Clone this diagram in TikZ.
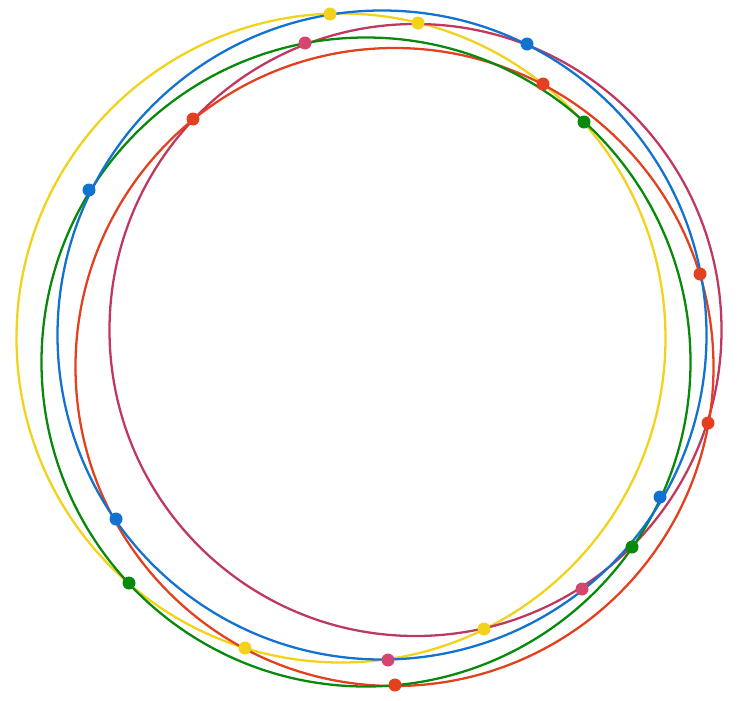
\documentclass[tikz,border=0pt]{standalone}
\usepackage{tikz}

\definecolor{ringyellow}{HTML}{F2D21B}
\definecolor{ringblue}{HTML}{1272CF}
\definecolor{ringgreen}{HTML}{07890B}
\definecolor{ringred}{HTML}{E2401E}
\definecolor{ringpink}{HTML}{C0385F}
\definecolor{dotpink}{HTML}{D6456E}

\begin{document}
\begin{tikzpicture}[x=0.02cm, y=-0.02cm,
    ring/.style={line width=1.3pt},
    dot/.style={radius=3.7pt}]

    % Frame
    \useasboundingbox (0,0) rectangle (740,700);

    % Rings
    \draw[ring, ringyellow] (341,338) circle[radius=324.5];
    \draw[ring, ringpink]   (415.5,330) circle[radius=306];
    \draw[ring, ringred]    (394.5,367) circle[radius=319];
    \draw[ring, ringgreen]  (366,362) circle[radius=324.5];
    \draw[ring, ringblue]   (382,335) circle[radius=324.5];

    % Yellow points
    \fill[ringyellow] (330,14) circle[dot];
    \fill[ringyellow] (418,23) circle[dot];
    \fill[ringyellow] (245,648) circle[dot];
    \fill[ringyellow] (484,629) circle[dot];

    % Blue points
    \fill[ringblue] (527,44) circle[dot];
    \fill[ringblue] (89,190) circle[dot];
    \fill[ringblue] (116,519) circle[dot];
    \fill[ringblue] (660,497) circle[dot];

    % Green points
    \fill[ringgreen] (584,122) circle[dot];
    \fill[ringgreen] (129,583) circle[dot];
    \fill[ringgreen] (632,547) circle[dot];

    % Red points
    \fill[ringred] (543,84) circle[dot];
    \fill[ringred] (193,119) circle[dot];
    \fill[ringred] (700,274) circle[dot];
    \fill[ringred] (708,423) circle[dot];
    \fill[ringred] (395,685) circle[dot];

    % Pink points
    \fill[dotpink] (305,43) circle[dot];
    \fill[dotpink] (582,589) circle[dot];
    \fill[dotpink] (388,660) circle[dot];

\end{tikzpicture}
\end{document}
